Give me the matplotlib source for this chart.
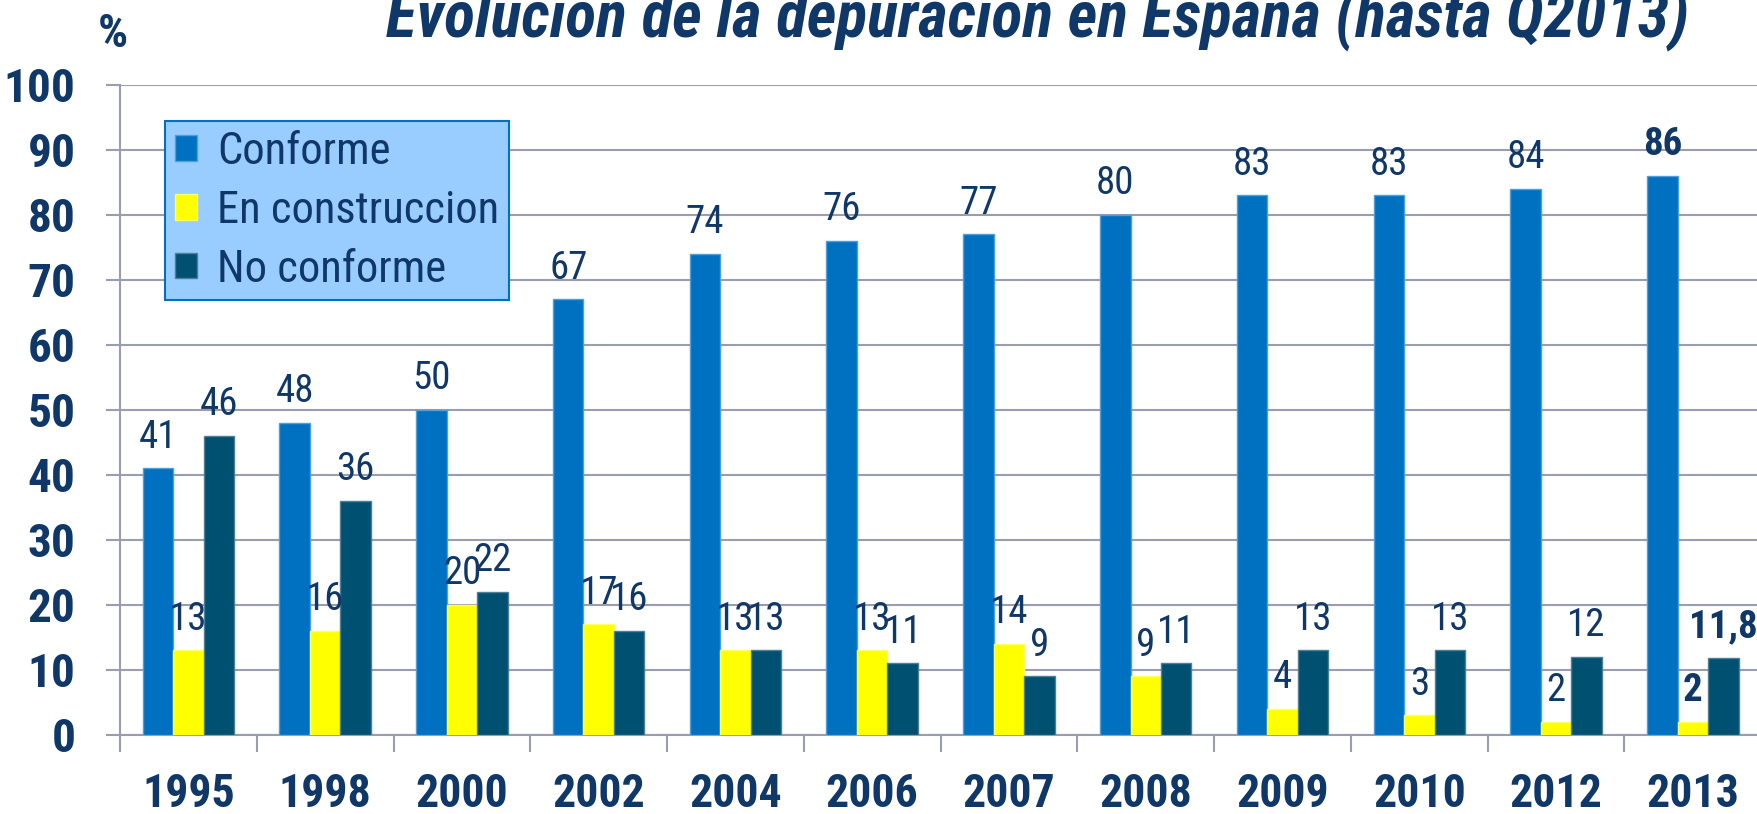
import numpy as np
import matplotlib.pyplot as plt

years = ['1995', '1998', '2000', '2002', '2004', '2006', '2007', '2008', '2009', '2010', '2012', '2013']
conforme = [41, 48, 50, 67, 74, 76, 77, 80, 83, 83, 84, 86]
construccion = [13, 16, 20, 17, 13, 13, 14, 9, 4, 3, 2, 2]
no_conforme = [46, 36, 22, 16, 13, 11, 9, 11, 13, 13, 12, 11.8]
series_names = ['Conforme', 'En construccion', 'No conforme']

navy = '#0F3768'
colors = ['#0070C0', '#FFFF00', '#005072']
edges = ['#4FA0DA', '#FFFF66', '#4F7F96']
grid_c = '#9A9DAE'

plt.rcParams['font.family'] = ['Roboto Condensed', 'DejaVu Sans']

fig = plt.figure(figsize=(17.58, 8.14), dpi=100)
ax = fig.add_axes([0.0683, 0.0971, 0.9335, 0.7985])

x = np.arange(len(years))
w = 0.223
data = [conforme, construccion, no_conforme]
for k, (vals, name) in enumerate(zip(data, series_names)):
    pos = x + (k - 1) * w
    ax.bar(pos, vals, w, color=colors[k], edgecolor=edges[k], linewidth=1, label=name, zorder=3)
    for i, (p, v) in enumerate(zip(pos, vals)):
        bold = i == len(years) - 1
        txt = ('%g' % v).replace('.', ',')
        ax.annotate(txt, (p, v), xytext=(0, 9), textcoords='offset points',
                    ha='center', va='bottom', fontsize=28, color=navy,
                    fontweight='bold' if bold else 'normal', zorder=4)

ax.set_xlim(-0.5, len(years) - 0.5)
ax.set_ylim(0, 100)
ax.set_yticks(range(0, 101, 10))
ax.set_xticks(x)
ax.set_xticklabels(years)
ax.set_xticks(np.arange(-0.5, len(years), 1), minor=True)
ax.grid(axis='y', color=grid_c, linewidth=1.5, zorder=0)
for s in ['top', 'right']:
    ax.spines[s].set_visible(False)
for s in ['left', 'bottom']:
    ax.spines[s].set_color(grid_c)
    ax.spines[s].set_linewidth(1.5)
ax.tick_params(axis='y', length=10, width=1.5, color=grid_c, pad=22,
               labelsize=34, labelcolor=navy)
ax.tick_params(axis='x', which='major', length=0, pad=27, labelsize=33, labelcolor=navy)
ax.tick_params(axis='x', which='minor', length=12, width=1.5, color=grid_c)
for lab in ax.get_xticklabels() + ax.get_yticklabels():
    lab.set_fontweight('bold')

leg = ax.legend(loc='upper left', bbox_to_anchor=(0.0274, 0.9446), borderaxespad=0,
                fontsize=32, frameon=True, fancybox=False, handlelength=0.5,
                handleheight=0.5, handletextpad=0.45, labelspacing=0.38,
                borderpad=0.22)
leg.get_frame().set_facecolor('#99CCFF')
leg.get_frame().set_edgecolor('#0070C0')
leg.get_frame().set_linewidth(1.5)
leg.get_frame().set_alpha(1)
for t in leg.get_texts():
    t.set_color(navy)

fig.text(0.59, 0.955, 'Evolución de la depuración en España (hasta Q2013)',
         ha='center', va='baseline', fontsize=46, fontweight='bold',
         fontstyle='italic', color=navy)
fig.text(0.064, 0.942, '%', ha='center', va='baseline', fontsize=34,
         fontweight='bold', color=navy)

fig.savefig('out.png', dpi=100)
